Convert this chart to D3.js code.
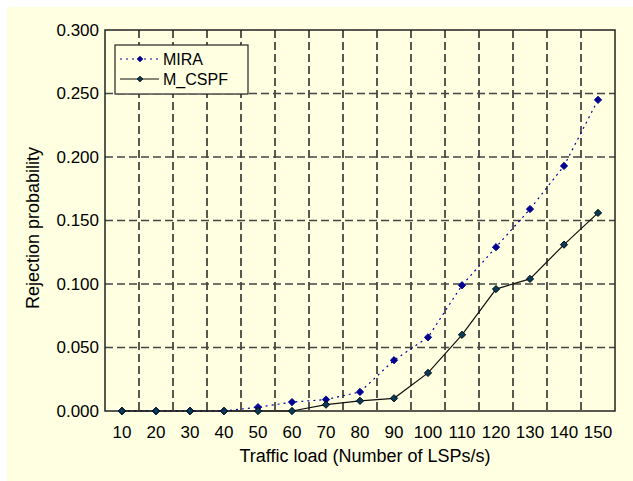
<!DOCTYPE html>
<html>
<head>
<meta charset="utf-8">
<script src="https://cdn.jsdelivr.net/npm/d3@7"></script>
<style>
  body { margin: 0; background: #fff; }
  text { font-family: "Liberation Sans", Arial, sans-serif; }
</style>
</head>
<body>
<svg width="633" height="481"></svg>
<script>
var loads = [10, 20, 30, 40, 50, 60, 70, 80, 90, 100, 110, 120, 130, 140, 150];
var mira = [0, 0, 0, 0, 0.003, 0.007, 0.009, 0.015, 0.040, 0.058, 0.099, 0.129, 0.159, 0.193, 0.245];
var mcspf = [0, 0, 0, 0, 0, 0, 0.005, 0.008, 0.010, 0.030, 0.060, 0.096, 0.104, 0.131, 0.156];
var yTicks = [0, 0.05, 0.1, 0.15, 0.2, 0.25, 0.3];
var seriesNames = ["MIRA", "M_CSPF"];

var svg = d3.select("svg");
var plotLeft = 105, plotRight = 615, plotTop = 30, plotBottom = 411;

svg.append("rect")
    .attr("x", 7).attr("y", 7)
    .attr("width", 626).attr("height", 474)
    .attr("fill", "#ffffe1");

var x = d3.scaleBand().domain(loads).range([plotLeft, plotRight]);
var y = d3.scaleLinear().domain([0, 0.3]).range([plotBottom, plotTop]);

// grid lines
var grid = svg.append("g")
    .attr("stroke-width", 1.5)
    .attr("stroke-dasharray", "8,4");
loads.slice(1).forEach((d) => {
    grid.append("line")
        .attr("x1", x(d)).attr("x2", x(d))
        .attr("y1", plotTop).attr("y2", plotBottom)
        .attr("stroke", "#222");
});
yTicks.slice(1, -1).forEach((d) => {
    grid.append("line")
        .attr("x1", plotLeft).attr("x2", plotRight)
        .attr("y1", y(d)).attr("y2", y(d))
        .attr("stroke", "#444");
});

// frame
svg.append("rect")
    .attr("x", plotLeft).attr("y", plotTop)
    .attr("width", plotRight - plotLeft).attr("height", plotBottom - plotTop)
    .attr("fill", "none")
    .attr("stroke", "#222")
    .attr("stroke-width", 1.5);

// axes
var yAxis = svg.append("g")
    .attr("transform", `translate(${plotLeft},0)`)
    .call(d3.axisLeft(y).tickValues(yTicks).tickFormat(d3.format(".3f")).tickSize(0).tickPadding(6));
yAxis.select(".domain").remove();
yAxis.selectAll("text").attr("font-size", 17).attr("fill", "#000");

var xAxis = svg.append("g")
    .attr("transform", `translate(0,${plotBottom})`)
    .call(d3.axisBottom(x).tickSize(0).tickPadding(15));
xAxis.select(".domain").remove();
xAxis.selectAll("text").attr("font-size", 17).attr("fill", "#000");

svg.append("text")
    .attr("x", 365).attr("y", 462)
    .attr("text-anchor", "middle")
    .attr("font-size", 18)
    .text("Traffic load (Number of LSPs/s)");

svg.append("text")
    .attr("transform", "translate(39,228) rotate(-90)")
    .attr("text-anchor", "middle")
    .attr("font-size", 18)
    .text("Rejection probability");

var line = d3.line()
    .x((d, i) => x(loads[i]) + x.bandwidth() / 2)
    .y((d) => y(d));

var diamond = d3.symbol().type(d3.symbolDiamond2).size(34);

function drawSeries(values, stroke, dash, markFill, markStroke) {
    svg.append("path")
        .attr("d", line(values))
        .attr("fill", "none")
        .attr("stroke", stroke)
        .attr("stroke-width", 1.2)
        .attr("stroke-dasharray", dash);
    svg.append("g").selectAll("path")
        .data(values)
        .join("path")
        .attr("transform", (d, i) => `translate(${x(loads[i]) + x.bandwidth() / 2},${y(d)})`)
        .attr("d", diamond)
        .attr("fill", markFill)
        .attr("stroke", markStroke)
        .attr("stroke-width", 0.9);
}

drawSeries(mira, "#0000a0", "2,4", "#000090", "#000090");
drawSeries(mcspf, "#111", null, "#0a3a5a", "#000");

// legend
var legend = svg.append("g");
legend.append("rect")
    .attr("x", 115).attr("y", 45)
    .attr("width", 133).attr("height", 49)
    .attr("fill", "#ffffe1")
    .attr("stroke", "#222")
    .attr("stroke-width", 1.2);
var legendStyles = [
    {stroke: "#0000a0", dash: "2,4", fill: "#000090", ms: "#000090"},
    {stroke: "#111", dash: null, fill: "#0a3a5a", ms: "#000"}
];
seriesNames.forEach((name, i) => {
    var yy = 59 + i * 20;
    legend.append("line")
        .attr("x1", 120).attr("x2", 159)
        .attr("y1", yy).attr("y2", yy)
        .attr("stroke", legendStyles[i].stroke)
        .attr("stroke-width", 1.2)
        .attr("stroke-dasharray", legendStyles[i].dash);
    legend.append("path")
        .attr("transform", `translate(140,${yy})`)
        .attr("d", d3.symbol().type(d3.symbolDiamond2).size(20))
        .attr("fill", legendStyles[i].fill)
        .attr("stroke", legendStyles[i].ms)
        .attr("stroke-width", 0.9);
    legend.append("text")
        .attr("x", 163).attr("y", yy + 6)
        .attr("font-size", 16)
        .text(name);
});
</script>
</body>
</html>
